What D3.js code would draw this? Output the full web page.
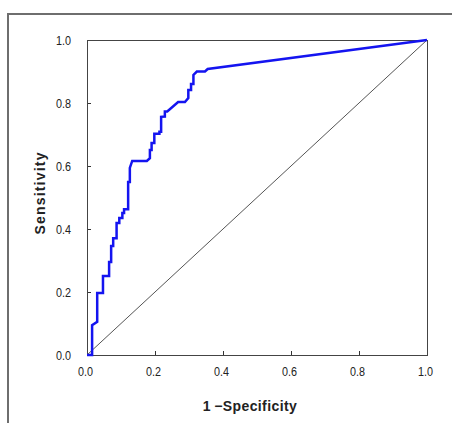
<!DOCTYPE html>
<html>
<head>
<meta charset="utf-8">
<script src="https://cdn.jsdelivr.net/npm/d3@7"></script>
<style>
  html, body { margin: 0; padding: 0; background: #fff; }
  svg { display: block; }
  .tick text { font-family: "Liberation Sans", Arial, sans-serif; font-size: 13px; fill: #222; }
  .axis-title { font-family: "Liberation Sans", Arial, sans-serif; font-size: 14px; font-weight: bold; fill: #222; }
</style>
</head>
<body>
<svg id="chart" width="452" height="423"></svg>
<script>
// ROC curve points: false positive rate (1 - specificity) and true positive rate (sensitivity)
const fpr = [0, 0.015, 0.015, 0.03, 0.03, 0.047, 0.047, 0.065, 0.065, 0.071, 0.071, 0.077, 0.077,
  0.087, 0.087, 0.095, 0.095, 0.104, 0.104, 0.109, 0.109, 0.121, 0.121, 0.126, 0.126, 0.133,
  0.176, 0.185, 0.185, 0.19, 0.19, 0.198, 0.198, 0.213, 0.213, 0.218, 0.218, 0.229, 0.229, 0.236,
  0.268, 0.288, 0.298, 0.298, 0.306, 0.306, 0.313, 0.313, 0.323, 0.347, 0.355, 1];
const tpr = [0, 0, 0.095, 0.105, 0.197, 0.197, 0.251, 0.251, 0.295, 0.295, 0.346, 0.346, 0.371,
  0.371, 0.419, 0.419, 0.435, 0.435, 0.451, 0.451, 0.463, 0.463, 0.549, 0.549, 0.594, 0.616,
  0.616, 0.625, 0.651, 0.651, 0.673, 0.673, 0.702, 0.702, 0.709, 0.709, 0.756, 0.757, 0.773, 0.773,
  0.803, 0.803, 0.816, 0.841, 0.841, 0.860, 0.860, 0.889, 0.9, 0.9, 0.908, 1];

// Reference diagonal (chance line)
const chanceX = [0, 1];
const chanceY = [0, 1];

const tickValues = [0, 0.2, 0.4, 0.6, 0.8, 1.0];
const xTitle = "1\u2009\u2212Specificity";
const yTitle = "Sensitivity";

const svg = d3.select("#chart");

// outer frame of the chart area
svg.append("rect")
  .attr("x", 8).attr("y", 14)
  .attr("width", 460).attr("height", 430)
  .attr("fill", "none")
  .attr("stroke", "#6e6e6e")
  .attr("stroke-width", 2);

const plot = { left: 87, top: 40, right: 427, bottom: 355 };

const x = d3.scaleLinear().domain([0, 1]).range([plot.left, plot.right]);
const y = d3.scaleLinear().domain([0, 1]).range([plot.bottom, plot.top]);

// axes with inward ticks
const xAxis = d3.axisBottom(x).tickValues(tickValues).tickFormat(d3.format(".1f"))
  .tickSizeInner(-4).tickSizeOuter(0).tickPadding(12);
const yAxis = d3.axisLeft(y).tickValues(tickValues).tickFormat(d3.format(".1f"))
  .tickSizeInner(-4).tickSizeOuter(0).tickPadding(16);

const gx = svg.append("g")
  .attr("transform", `translate(0,${plot.bottom})`)
  .call(xAxis);
gx.select(".domain").remove();
gx.selectAll(".tick line").attr("stroke", "#333");
gx.selectAll(".tick text").attr("dx", -2);

const gy = svg.append("g")
  .attr("transform", `translate(${plot.left},0)`)
  .call(yAxis);
gy.select(".domain").remove();
gy.selectAll(".tick line").attr("stroke", "#333");

// condensed tick labels
svg.selectAll(".tick text")
  .attr("textLength", 15)
  .attr("lengthAdjust", "spacingAndGlyphs");

// plot border
svg.append("rect")
  .attr("x", plot.left + 0.5).attr("y", plot.top + 0.5)
  .attr("width", plot.right - plot.left).attr("height", plot.bottom - plot.top)
  .attr("fill", "none")
  .attr("stroke", "#444")
  .attr("stroke-width", 1);

const line = d3.line().x(d => x(d[0])).y(d => y(d[1]));

// chance diagonal
svg.append("path")
  .datum(d3.zip(chanceX, chanceY))
  .attr("d", line)
  .attr("fill", "none")
  .attr("stroke", "#555")
  .attr("stroke-width", 1);

// ROC curve
svg.append("path")
  .datum(d3.zip(fpr, tpr))
  .attr("d", line)
  .attr("fill", "none")
  .attr("stroke", "#1414f0")
  .attr("stroke-width", 2.5)
  .attr("stroke-linejoin", "miter");

// axis titles
svg.append("text")
  .attr("class", "axis-title")
  .attr("x", 250).attr("y", 411)
  .attr("text-anchor", "middle")
  .attr("letter-spacing", "0.4")
  .text(xTitle);

svg.append("text")
  .attr("class", "axis-title")
  .attr("transform", "translate(45,193) rotate(-90)")
  .attr("text-anchor", "middle")
  .attr("letter-spacing", "1.2")
  .text(yTitle);
</script>
</body>
</html>
